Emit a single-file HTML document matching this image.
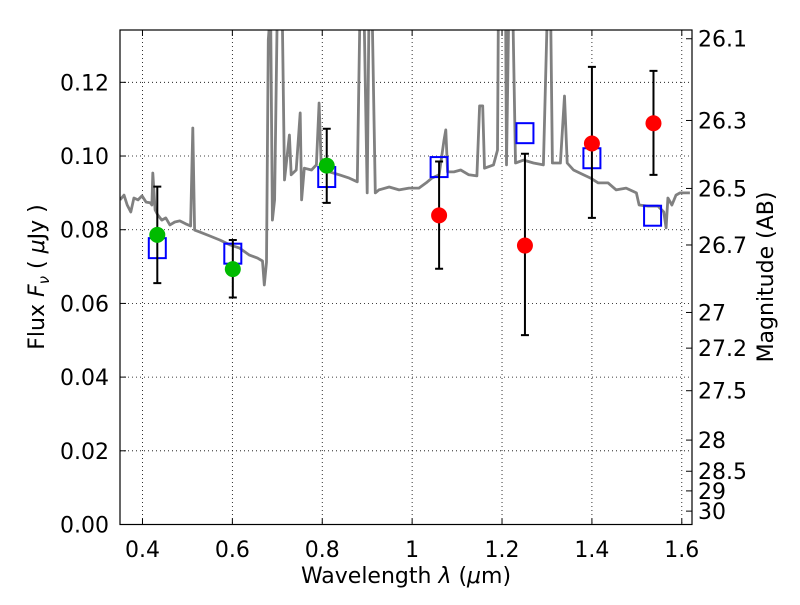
<!DOCTYPE html>
<html><head><meta charset="utf-8"><style>
body{margin:0;background:#fff;}
svg text{font-family:"DejaVu Sans","Liberation Sans",sans-serif;fill:#000;}
</style></head><body>
<svg id="chart" width="800" height="600" viewBox="0 0 800 600">
<defs><clipPath id="plotclip"><rect x="120" y="30" width="572" height="494.5"/></clipPath></defs>
<rect x="0" y="0" width="800" height="600" fill="#fff"/>
<g id="grid"></g>
<g id="spec" clip-path="url(#plotclip)"></g>
<g id="marks"></g>
<rect x="120" y="30" width="572" height="494.5" fill="none" stroke="#000" stroke-width="1.2"/>
<g id="axes"></g>
<text x="406" y="583" font-size="22" text-anchor="middle">Wavelength  <tspan font-style="italic">λ</tspan> (<tspan font-style="italic">μ</tspan>m)</text>
<text transform="translate(44,277) rotate(-90)" font-size="22" text-anchor="middle">Flux  <tspan font-style="italic">F</tspan><tspan font-style="italic" font-size="15" dy="5">ν</tspan><tspan dy="-5">  ( </tspan><tspan font-style="italic">μ</tspan>Jy )</text>
<text transform="translate(773,277) rotate(-90)" font-size="22" text-anchor="middle">Magnitude (AB)</text>
</svg>
<script>
const specLam=[0.350,0.359,0.366,0.374,0.381,0.390,0.399,0.408,0.417,0.421,0.423,0.428,0.434,0.443,0.452,0.461,0.472,0.483,0.496,0.507,0.512,0.516,0.527,0.550,0.572,0.594,0.616,0.638,0.656,0.667,0.671,0.676,0.680,0.685,0.689,0.694,0.700,0.711,0.716,0.727,0.731,0.742,0.751,0.754,0.760,0.776,0.787,0.793,0.798,0.816,0.838,0.860,0.878,0.884,0.893,0.900,0.904,0.911,0.918,0.926,0.949,0.971,0.993,1.015,1.031,1.044,1.060,1.071,1.075,1.079,1.093,1.108,1.126,1.144,1.150,1.157,1.161,1.181,1.190,1.192,1.208,1.210,1.215,1.224,1.230,1.248,1.270,1.292,1.301,1.308,1.312,1.330,1.339,1.345,1.359,1.381,1.397,1.414,1.436,1.454,1.476,1.499,1.505,1.525,1.547,1.560,1.565,1.569,1.578,1.587,1.596,1.618];
const specFlux=[0.0881,0.0894,0.0867,0.0848,0.0886,0.0881,0.0892,0.0875,0.0873,0.0867,0.0954,0.0854,0.0840,0.0826,0.0832,0.0813,0.0821,0.0824,0.0816,0.0810,0.1076,0.0799,0.0794,0.0783,0.0772,0.0759,0.0750,0.0731,0.0723,0.0715,0.0650,0.0712,0.1315,0.140,0.0826,0.0881,0.140,0.140,0.0935,0.1057,0.0949,0.0962,0.1117,0.0881,0.0967,0.0962,0.0976,0.1144,0.0967,0.0957,0.0949,0.0940,0.0930,0.140,0.140,0.0900,0.140,0.140,0.0900,0.0908,0.0916,0.0908,0.0913,0.0913,0.0927,0.0940,0.0949,0.1043,0.1071,0.0957,0.0957,0.0962,0.0949,0.0946,0.1136,0.1136,0.0967,0.0976,0.1016,0.140,0.140,0.0976,0.140,0.140,0.0981,0.0989,0.0981,0.0976,0.140,0.140,0.0981,0.0981,0.1163,0.0981,0.0962,0.0949,0.0940,0.0927,0.0927,0.0908,0.0913,0.0900,0.0867,0.0864,0.0864,0.0848,0.0805,0.0886,0.0867,0.0894,0.0900,0.0900];
const obsLam=[0.433,0.601,0.810,1.060,1.251,1.400,1.537];
const obsFlux=[0.0786,0.0693,0.0974,0.0839,0.0757,0.1034,0.1089];
const obsErrHi=[0.0917,0.0772,0.1074,0.0985,0.1006,0.1242,0.1231];
const obsErrLo=[0.0655,0.0616,0.0873,0.0694,0.0514,0.0832,0.0949];
const obsColor=['#00bb00','#00bb00','#00bb00','#ff0000','#ff0000','#ff0000','#ff0000'];
const modLam=[0.433,0.601,0.810,1.060,1.251,1.400,1.535];
const modFlux=[0.0750,0.0735,0.0943,0.0970,0.1062,0.0994,0.0838];
const xTicks=[0.4,0.6,0.8,1.0,1.2,1.4,1.6];
const xTickLabels=['0.4','0.6','0.8','1','1.2','1.4','1.6'];
const yTicks=[0,0.02,0.04,0.06,0.08,0.10,0.12];
const yTickLabels=['0.00','0.02','0.04','0.06','0.08','0.10','0.12'];
const magTicks=[26.1,26.3,26.5,26.7,27,27.2,27.5,28,28.5,29,30];
const magTickLabels=['26.1','26.3','26.5','26.7','27','27.2','27.5','28','28.5','29','30'];

const X0=120,X1=692,Y0=524.5,Y1=30,LMIN=0.35,LMAX=1.6227,FMAX=0.1342;
const sx=v=>X0+(v-LMIN)/(LMAX-LMIN)*(X1-X0);
const sy=v=>Y0-v/FMAX*(Y0-Y1);
const NS='http://www.w3.org/2000/svg';
function mk(tag,attrs,parent){const e=document.createElementNS(NS,tag);for(const k in attrs)e.setAttribute(k,attrs[k]);parent.appendChild(e);return e;}
const grid=document.getElementById('grid'),axes=document.getElementById('axes'),spec=document.getElementById('spec'),marks=document.getElementById('marks');

xTicks.forEach((t,i)=>{
  const x=sx(t);
  const g=mk('line',{x1:x,x2:x,y1:Y1,y2:Y0,stroke:'#000','stroke-width':0.8,'stroke-dasharray':'1,3'},grid);
  
  
  const a=mk('line',{x1:x,x2:x,y1:Y0,y2:Y0-6,stroke:'#000','stroke-width':1},axes);
  
  
  const b=mk('line',{x1:x,x2:x,y1:Y1,y2:Y1+6,stroke:'#000','stroke-width':1},axes);
  
  
  const tx=mk('text',{x:x,y:557,'font-size':22,'text-anchor':'middle'},axes);
  tx.textContent=xTickLabels[i];
  
  
});
yTicks.forEach((t,i)=>{
  const y=sy(t);
  const g=mk('line',{x1:X0,x2:X1,y1:y,y2:y,stroke:'#000','stroke-width':0.8,'stroke-dasharray':'1,3'},grid);
  
  
  const a=mk('line',{x1:X0,x2:X0+6,y1:y,y2:y,stroke:'#000','stroke-width':1},axes);
  
  
  const tx=mk('text',{x:109,y:y+8,'font-size':22,'text-anchor':'end'},axes);
  tx.textContent=yTickLabels[i];
  
  
});
magTicks.forEach((m,i)=>{
  const f=Math.pow(10,(23.9-m)/2.5);
  const y=sy(f);
  const a=mk('line',{x1:X1,x2:X1-6,y1:y,y2:y,stroke:'#000','stroke-width':1},axes);
  
  
  const tx=mk('text',{x:698,y:y+8,'font-size':22,'text-anchor':'start'},axes);
  tx.textContent=magTickLabels[i];
  
  
});

const pts=specLam.map((l,i)=>sx(l).toFixed(1)+','+sy(specFlux[i]).toFixed(1)).join(' ');
const pl=mk('polyline',{points:pts,fill:'none',stroke:'#808080','stroke-width':2.8,'stroke-linejoin':'round'},spec);



modLam.forEach((l,i)=>{
  const x=sx(l),y=sy(modFlux[i]);
  const r=mk('rect',{x:x-8.5,y:y-10,width:17,height:20,fill:'none',stroke:'#0000ff','stroke-width':2},marks);
  
  
});
obsLam.forEach((l,i)=>{
  const x=sx(l),yh=sy(obsErrHi[i]),yl=sy(obsErrLo[i]);
  const e=mk('path',{d:`M${x},${yh}V${yl}M${x-4},${yh}H${x+4}M${x-4},${yl}H${x+4}`,stroke:'#000','stroke-width':2,fill:'none'},marks);
  
  
  const c=mk('circle',{cx:x,cy:sy(obsFlux[i]),r:8,fill:obsColor[i]},marks);
  
  
});
</script>
</body></html>
